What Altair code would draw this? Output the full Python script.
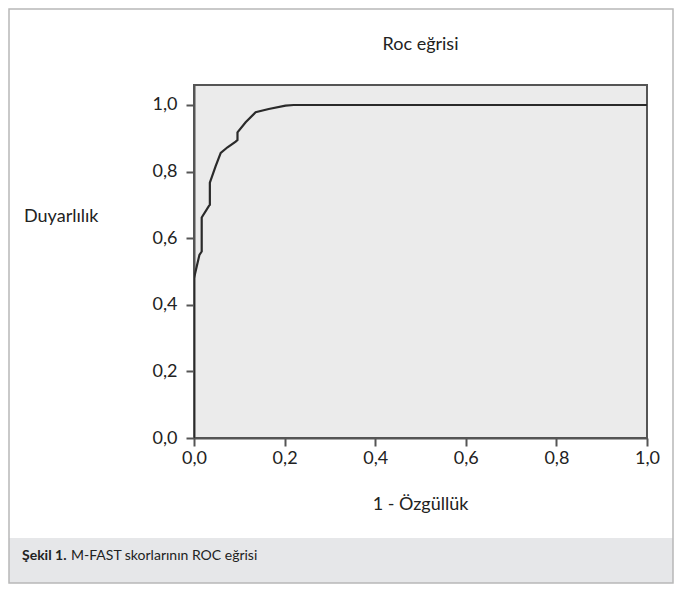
import altair as alt
import pandas as pd

# ROC curve
fpr = [0.0, 0.0, 0.012, 0.017, 0.017, 0.033, 0.035, 0.035, 0.048, 0.059, 0.074, 0.092, 0.096, 0.096, 0.114, 0.136, 0.165, 0.202, 0.22, 1.0]
tpr = [0.0, 0.48, 0.55, 0.56, 0.662, 0.697, 0.70, 0.767, 0.817, 0.856, 0.873, 0.89, 0.895, 0.918, 0.948, 0.978, 0.988, 0.998, 1.0, 1.0]

tick_values = [0.0, 0.2, 0.4, 0.6, 0.8, 1.0]

title_text = "Roc eğrisi"
y_title = "Duyarlılık"
x_title = "1 - Özgüllük"
caption_bold = "Şekil 1."
caption_text = "M-FAST skorlarının ROC eğrisi"

FONT = "Lato"
W, H = 453, 353
PAD_L, PAD_T, PAD_R, PAD_B = 186, 77, 27, 146

df = pd.DataFrame({"fpr": fpr, "tpr": tpr, "i": list(range(len(fpr)))})
dummy = pd.DataFrame({"a": [0]})

label_expr = "replace(format(datum.value, '.1f'), '.', ',')"

x_enc = alt.X("fpr:Q", scale=alt.Scale(domain=[0, 1], nice=False, zero=False),
              axis=alt.Axis(values=tick_values, labelExpr=label_expr, title=None,
                            grid=False, labelPadding=3, tickSize=8, labelFlush=False))
y_enc = alt.Y("tpr:Q", scale=alt.Scale(domain=[0, 1.06], nice=False, zero=False),
              axis=alt.Axis(values=tick_values, labelExpr=label_expr, title=None,
                            grid=False, labelPadding=9, tickSize=8, labelFlush=False))

curve = alt.Chart(df).mark_line(color="#2a2a2a", strokeWidth=2.2, clip=True).encode(
    x=x_enc, y=y_enc, order="i:Q")

band = alt.Chart(dummy).mark_rect(color="#e6e7e9", clip=False).encode(
    x=alt.value(-PAD_L + 1), x2=alt.value(W + PAD_R - 1),
    y=alt.value(H + 100), y2=alt.value(H + PAD_B - 1))

frame = alt.Chart(dummy).mark_rect(fillOpacity=0, stroke="#b8b8b8", strokeWidth=1.5, clip=False).encode(
    x=alt.value(-PAD_L + 1), x2=alt.value(W + PAD_R - 1),
    y=alt.value(-PAD_T + 1), y2=alt.value(H + PAD_B - 1))

def txt(s, x, y, align="left", size=18, weight="normal"):
    return alt.Chart(dummy).mark_text(font=FONT, fontSize=size, fontWeight=weight, align=align,
                                      baseline="middle", color="#222222", clip=False).encode(
        x=alt.value(x), y=alt.value(y), text=alt.value(s))

t_title = txt(title_text, W / 2, -40, align="center")
t_y = txt(y_title, -170, 132)
t_x = txt(x_title, W / 2, 420, align="center")
t_cb = txt(caption_bold, -172, 471, size=14, weight="bold")
t_c = txt(caption_text, -123, 471, size=14)

chart = alt.layer(band, frame, curve, t_title, t_y, t_x, t_cb, t_c).properties(
    width=W, height=H,
    autosize=alt.AutoSizeParams(type="none"),
    padding={"left": PAD_L, "top": PAD_T, "right": PAD_R, "bottom": PAD_B},
    background="white",
).configure_view(
    fill="#ebebeb", stroke="#555555", strokeWidth=2
).configure_axis(
    domainColor="#555555", domainWidth=2, tickColor="#555555", tickWidth=2,
    labelFont=FONT, labelFontSize=18, labelColor="#222222"
)

chart.save("out.html", embed_options={"renderer": "svg", "actions": False})
